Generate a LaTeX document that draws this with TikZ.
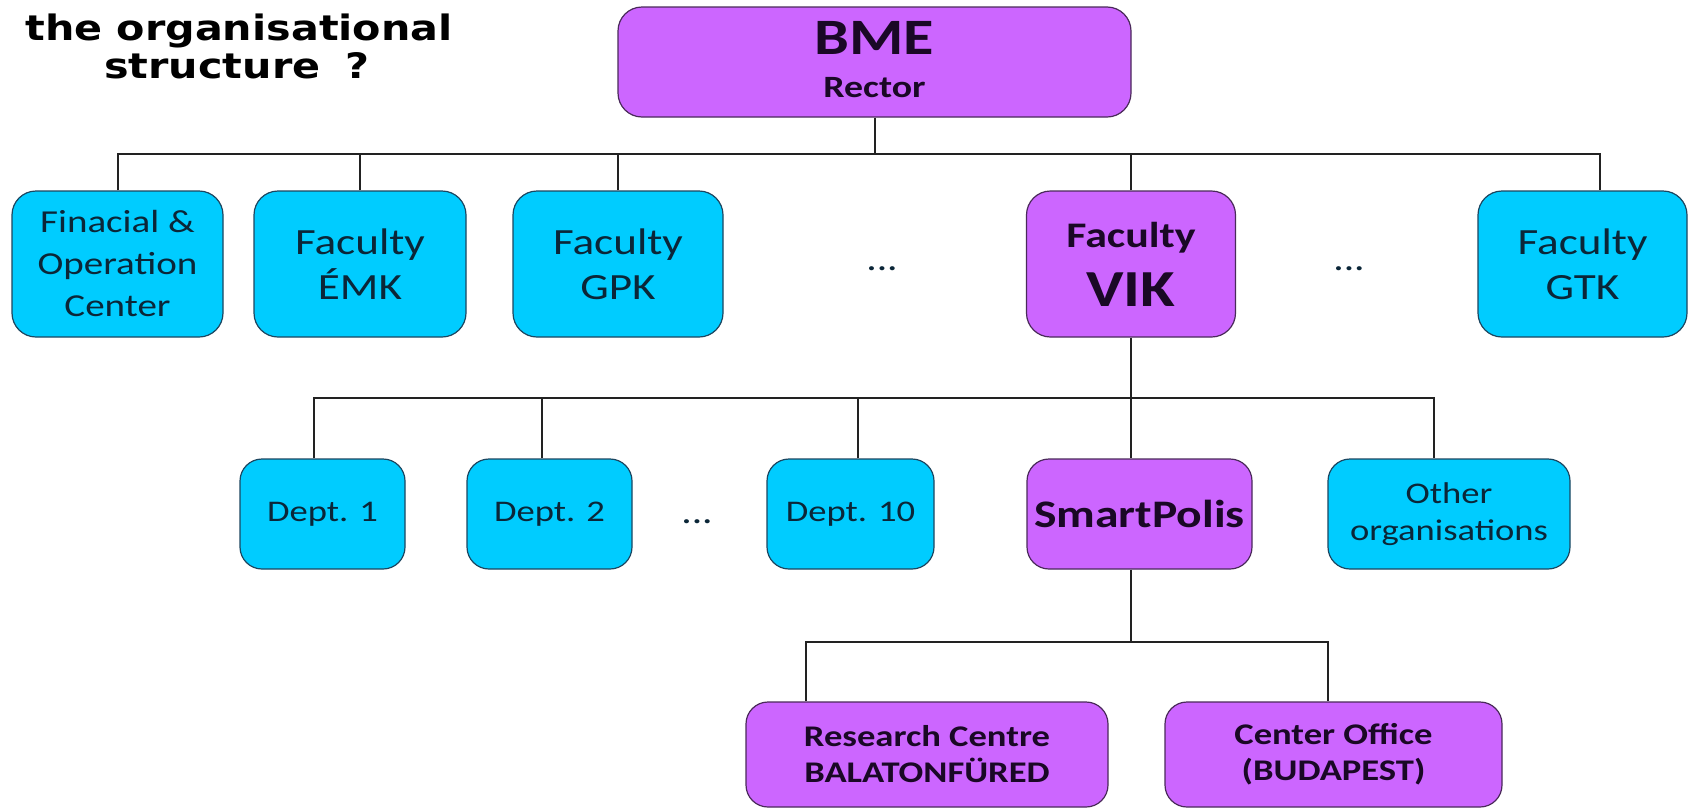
\documentclass[tikz,border=0pt]{standalone}
\usepackage{fontspec}
\setmainfont{Carlito}[FakeStretch=1.22]
\newfontfamily\titlefont{DejaVu Sans}[FakeStretch=1.18]
\usetikzlibrary{calc}
\definecolor{cyanbox}{HTML}{00CCFF}
\definecolor{purplebox}{HTML}{CC66FF}
\definecolor{cyantext}{HTML}{0B2638}
\definecolor{purpletext}{HTML}{1A0826}
\definecolor{cyanedge}{HTML}{1C4660}
\definecolor{purpleedge}{HTML}{4A2A5A}
\definecolor{linecol}{HTML}{222222}
\newcommand\fsz[2]{\fontsize{#1}{#2}\selectfont}
\begin{document}
\begin{tikzpicture}[x=1pt,y=-1pt,
  cbox/.style={draw=cyanedge, line width=1.2pt, fill=cyanbox, rounded corners=24pt,
    text=cyantext, align=center, inner sep=0pt},
  pbox/.style={draw=purpleedge, line width=1.2pt, fill=purplebox, rounded corners=24pt,
    text=purpletext, align=center, inner sep=0pt},
  rowone/.style={minimum height=146pt},
  rowtwo/.style={minimum height=110pt, rounded corners=22pt},
  rowthree/.style={minimum height=105pt, rounded corners=22pt},
  conn/.style={draw=linecol, line width=2pt},
  dotsnode/.style={text=cyantext, font=\fsz{34}{40}, anchor=base, inner sep=0pt},
  titletext/.style={font=\titlefont\bfseries\fsz{35}{40}, anchor=base, inner sep=0pt, text=black}
]
\useasboundingbox[fill=white] (0,0) rectangle (1689,809);

% title
\node[titletext] (t1) at (239,40) {the organisational};
\node[titletext] (t2) at (237,78) {structure\hspace{11pt} ?};

% top
\node[pbox, minimum width=513pt, minimum height=110pt, font=\bfseries\fsz{31}{43}] (bme) at (874.5,62)
  {{\fsz{51}{43}BME}\\Rector\rule[-6pt]{0pt}{6pt}};

% row 1
\node[cbox, rowone, minimum width=211pt, font=\fsz{32}{42}] (fin) at (117.5,264)
  {Finacial \&\\Operation\\Center};
\node[cbox, rowone, minimum width=212pt, font=\fsz{37}{45}] (emk) at (360,264) {Faculty\\ÉMK};
\node[cbox, rowone, minimum width=210pt, font=\fsz{37}{45}] (gpk) at (618,264) {Faculty\\GPK};
\node[pbox, rowone, minimum width=209pt, font=\bfseries\fsz{52}{59}] (vik) at (1131,264)
  {{\fsz{36}{59}Faculty}\\VIK};
\node[cbox, rowone, minimum width=209pt, font=\fsz{37}{45}] (gtk) at (1582.5,264) {Faculty\\GTK};
\node[dotsnode] (dotsA) at (882,270) {...};
\node[dotsnode] (dotsB) at (1349,270) {...};

% row 2
\node[cbox, rowtwo, minimum width=165pt, font=\fsz{30}{36}] (d1) at (322.5,514) {Dept. 1};
\node[cbox, rowtwo, minimum width=165pt, font=\fsz{30}{36}] (d2) at (549.5,514) {Dept. 2};
\node[dotsnode] (dotsC) at (697,523) {...};
\node[cbox, rowtwo, minimum width=167pt, font=\fsz{30}{36}] (d10) at (850.5,514) {Dept. 10};
\node[pbox, rowtwo, minimum width=225pt, font=\bfseries\fsz{39}{44}] (sp) at (1139.5,514) {SmartPolis};
\node[cbox, rowtwo, minimum width=242pt, font=\fsz{30}{37}] (oth) at (1449,514) {Other\\organisations};

% row 3
\node[pbox, rowthree, minimum width=362pt, font=\bfseries\fsz{30}{36}] (rc) at (927,754.5)
  {Research Centre\\BALATONFÜRED};
\node[pbox, rowthree, minimum width=337pt, font=\bfseries\fsz{30}{36}] (co) at (1333.5,754.5)
  {Center Office\\(BUDAPEST)};

% connectors
\coordinate (bus1) at (0,154);
\coordinate (bus2) at (0,398);
\coordinate (bus3) at (0,642);
\coordinate (gtkc) at ($(gtk.north)+(17.5,0)$);
\draw[conn] (bme.south) -- (bme.south |- bus1);
\draw[conn] (fin.north) -- (fin.north |- bus1) -- (gtkc |- bus1) -- (gtkc);
\foreach \n in {emk,gpk,vik} \draw[conn] (\n.north) -- (\n.north |- bus1);

\coordinate (d1c) at ($(d1.north)+(-8.5,0)$);
\coordinate (d2c) at ($(d2.north)+(-7.5,0)$);
\coordinate (d10c) at ($(d10.north)+(7.5,0)$);
\coordinate (othc) at ($(oth.north)+(-15,0)$);
\draw[conn] (vik.south) -- (vik.south |- sp.north);
\draw[conn] (d1c) -- (d1c |- bus2) -- (othc |- bus2) -- (othc);
\draw[conn] (d2c) -- (d2c |- bus2);
\draw[conn] (d10c) -- (d10c |- bus2);

\coordinate (spc) at (vik.south |- sp.south);
\coordinate (rcc) at ($(rc.north)+(-121,0)$);
\coordinate (coc) at ($(co.north)+(-5.5,0)$);
\draw[conn] (spc) -- (spc |- bus3);
\draw[conn] (rcc) -- (rcc |- bus3) -- (coc |- bus3) -- (coc);
\end{tikzpicture}
\end{document}
